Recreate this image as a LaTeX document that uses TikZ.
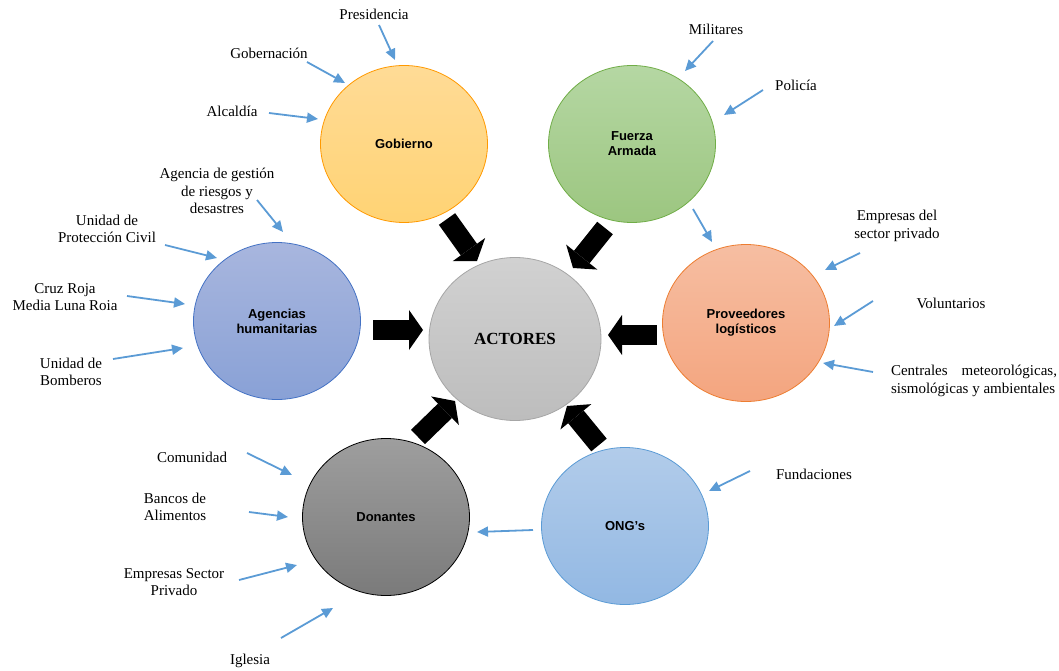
\documentclass[tikz,border=0pt]{standalone}
\usepackage{fontspec}
\setmainfont{Liberation Serif}
\setsansfont{Liberation Sans}
\usetikzlibrary{shapes.geometric,arrows.meta}
\definecolor{feedblue}{HTML}{5B9BD5}
\begin{document}
\begin{tikzpicture}[x=1pt, y=-1pt,
  actor/.style={draw, ellipse, line width=0.8pt, minimum width=167pt, minimum height=157pt,
    inner sep=0pt, align=center, font=\sffamily\bfseries\fontsize{13}{15}\selectfont},
  lbl/.style={align=center, inner sep=0pt, font=\fontsize{15}{17.5}\selectfont},
  feed/.style={draw=feedblue, line width=1.8pt, -{Triangle[width=10pt,length=11pt]}},
  push/.style={line width=20pt, -{Triangle[width=40pt,length=14pt,line width=0pt]}}]
\useasboundingbox (0,0) rectangle (1059,671);
% circulos
\node[actor, minimum width=172pt, minimum height=163pt, draw=black!35, top color=black!18, bottom color=black!26,
  font=\bfseries\fontsize{17}{20}\selectfont](act) at (515,339){ACTORES};
\node[actor, draw=orange!80!yellow, top color={rgb,255:red,255;green,219;blue,150}, bottom color={rgb,255:red,255;green,211;blue,116}](gob) at (404,144){Gobierno};
\node[actor, draw={rgb,255:red,112;green,173;blue,71}, top color={rgb,255:red,181;green,215;blue,163}, bottom color={rgb,255:red,156;green,198;blue,128}](fa) at (632,144){Fuerza\\Armada};
\node[actor, draw={rgb,255:red,68;green,114;blue,196}, top color={rgb,255:red,168;green,182;blue,222}, bottom color={rgb,255:red,137;green,161;blue,214}](agh) at (277,321){Agencias\\humanitarias};
\node[actor, draw={rgb,255:red,237;green,125;blue,49}, top color={rgb,255:red,246;green,190;blue,162}, bottom color={rgb,255:red,244;green,165;blue,127}](prov) at (746,323){Proveedores\\logísticos};
\node[actor, draw=black, top color=black!38, bottom color=black!52](don) at (386,517){Donantes};
\node[actor, draw=feedblue, top color={rgb,255:red,178;green,204;blue,234}, bottom color={rgb,255:red,146;green,184;blue,227}](ong) at (625,526){ONG’s};

% flechas grandes
\coordinate (g1) at (447,219); \coordinate (g2) at (477,261);
\coordinate (f1) at (605,228); \coordinate (f2) at (573,268);
\coordinate (a1) at (373,330); \coordinate (a2) at (423,330);
\coordinate (p1) at (657,335); \coordinate (p2) at (608,335);
\coordinate (d1) at (418,437); \coordinate (d2) at (455,401);
\coordinate (o1) at (599,445); \coordinate (o2) at (567,406);
\draw[push] (g1) -- (g2);
\draw[push] (f1) -- (f2);
\draw[push] (a1) -- (a2);
\draw[push] (p1) -- (p2);
\draw[push] (d1) -- (d2);
\draw[push] (o1) -- (o2);

% Gobierno
\node[lbl](presi) at (374,14){Presidencia};
\node[lbl](gober) at (269,53){Gobernación};
\node[lbl](alcal) at (232,111){Alcaldía};
\coordinate (presi-s) at (379,25); \coordinate (presi-e) at (395,60);
\coordinate (gober-s) at (307,62); \coordinate (gober-e) at (345,83);
\coordinate (alcal-s) at (269,113); \coordinate (alcal-e) at (318,119);
\draw[feed] (presi-s) -- (presi-e);
\draw[feed] (gober-s) -- (gober-e);
\draw[feed] (alcal-s) -- (alcal-e);

% Fuerza Armada
\node[lbl](milit) at (716,29){Militares};
\node[lbl](polic) at (796,85){Policía};
\coordinate (milit-s) at (713,41); \coordinate (milit-e) at (685,71);
\coordinate (polic-s) at (763,90); \coordinate (polic-e) at (724,115);
\coordinate (fa-s) at (693,209); \coordinate (prov-e) at (712,242);
\draw[feed] (milit-s) -- (milit-e);
\draw[feed] (polic-s) -- (polic-e);
\draw[feed] (fa-s) -- (prov-e);

% Proveedores
\node[lbl](empri) at (897,226){Empresas del\\sector privado};
\node[lbl](volun) at (951,303){Voluntarios};
\node[lbl, align=left](centr) at (974,381){\makebox[166pt][s]{Centrales meteorológicas,}\\sismológicas y ambientales};
\coordinate (empri-s) at (860,253); \coordinate (empri-e) at (825,270);
\coordinate (volun-s) at (873,301); \coordinate (volun-e) at (834,326);
\coordinate (centr-s) at (873,372); \coordinate (centr-e) at (823,363);
\draw[feed] (empri-s) -- (empri-e);
\draw[feed] (volun-s) -- (volun-e);
\draw[feed] (centr-s) -- (centr-e);

% ONG's
\node[lbl](funda) at (814,474){Fundaciones};
\coordinate (funda-s) at (750,471); \coordinate (funda-e) at (709,491);
\coordinate (ong-s) at (533,530); \coordinate (don-e) at (477,532);
\draw[feed] (funda-s) -- (funda-e);
\draw[feed] (ong-s) -- (don-e);

% Donantes
\node[lbl](comun) at (192,457){Comunidad};
\node[lbl](banco) at (175,507){Bancos de\\Alimentos};
\node[lbl](emsec) at (174,582){Empresas Sector\\Privado};
\node[lbl](igles) at (250,661){Iglesia};
\coordinate (comun-s) at (247,453); \coordinate (comun-e) at (292,475);
\coordinate (banco-s) at (249,512); \coordinate (banco-e) at (288,517);
\coordinate (emsec-s) at (239,580); \coordinate (emsec-e) at (297,565);
\coordinate (igles-s) at (281,638); \coordinate (igles-e) at (333,608);
\draw[feed] (comun-s) -- (comun-e);
\draw[feed] (banco-s) -- (banco-e);
\draw[feed] (emsec-s) -- (emsec-e);
\draw[feed] (igles-s) -- (igles-e);

% Agencias humanitarias
\node[lbl](agges) at (217,191){Agencia de gestión\\de riesgos y\\desastres};
\node[lbl](upc) at (107,229){Unidad de\\Protección Civil};
\node[lbl](cruz) at (65,297){Cruz Roja\\Media Luna Roia};
\node[lbl](bomb) at (71,372){Unidad de\\Bomberos};
\coordinate (agges-s) at (257,200); \coordinate (agges-e) at (283,232);
\coordinate (upc-s) at (165,245); \coordinate (upc-e) at (217,258);
\coordinate (cruz-s) at (127,296); \coordinate (cruz-e) at (185,304);
\coordinate (bomb-s) at (113,359); \coordinate (bomb-e) at (183,348);
\draw[feed] (agges-s) -- (agges-e);
\draw[feed] (upc-s) -- (upc-e);
\draw[feed] (cruz-s) -- (cruz-e);
\draw[feed] (bomb-s) -- (bomb-e);
\end{tikzpicture}
\end{document}
